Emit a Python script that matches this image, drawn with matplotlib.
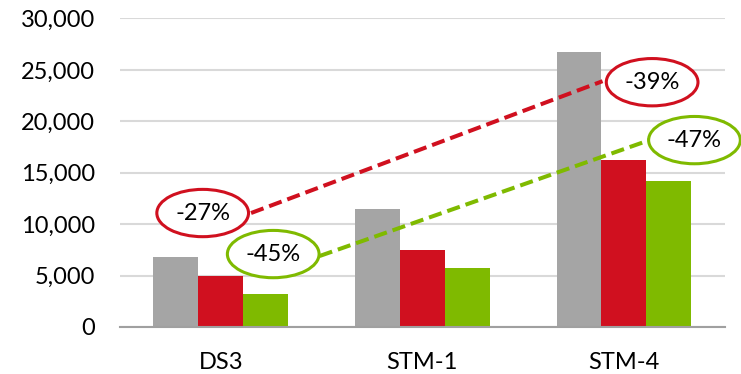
import numpy as np
import matplotlib
matplotlib.use("Agg")
import matplotlib.pyplot as plt
from matplotlib.patches import Ellipse
import matplotlib.ticker as ticker

# data
categories = ["DS3", "STM-1", "STM-4"]
baseline = [6770, 11470, 26700]
option_red = [5000, 7480, 16200]
option_green = [3240, 5700, 14190]

# annotations: (x, y) in data units, label
red_labels = [(-0.09, 11080, "-27%"), (2.14, 23800, "-39%")]
green_labels = [(0.26, 7090, "-45%"), (2.35, 18170, "-47%")]

GRAY = "#a5a5a5"
RED = "#d0101f"
GREEN = "#7fba00"

plt.rcParams['font.family'] = ['Lato', 'DejaVu Sans']

fig = plt.figure(figsize=(7.41, 3.74), dpi=100)
ax = fig.add_axes([0.162, 0.1257, 0.816, 0.825])

x = np.arange(len(categories))
w = 0.223
ax.bar(x - w, baseline, w, color=GRAY, zorder=2)
ax.bar(x, option_red, w, color=RED, zorder=2)
ax.bar(x + w, option_green, w, color=GREEN, zorder=2)

ax.set_xlim(-0.5, 2.5)
ax.set_ylim(0, 30000)
ax.yaxis.set_major_locator(ticker.MultipleLocator(5000))
ax.yaxis.set_major_formatter(ticker.StrMethodFormatter("{x:,.0f}"))
ax.set_xticks(x)
ax.set_xticklabels(categories)
ax.tick_params(axis="both", length=0, labelsize=17, colors="black")
ax.tick_params(axis="y", pad=18)
ax.tick_params(axis="x", pad=18)
ax.grid(axis="y", color="#d9d9d9", linewidth=1.5, zorder=0)
for s in ["top", "right", "left"]:
    ax.spines[s].set_visible(False)
ax.spines["bottom"].set_color("#a0a0a0")
ax.spines["bottom"].set_linewidth(1.5)
ax.spines["bottom"].set_zorder(3)

# dashed trend lines between ellipse edges
ax.plot([0.15, 1.894], [11080, 23900], color=RED, lw=2.9, ls=(0, (3.3, 1.5)), zorder=4)
ax.plot([0.49, 2.127], [6900, 18170], color=GREEN, lw=2.9, ls=(0, (3.3, 1.5)), zorder=4)

for labels, col in [(red_labels, RED), (green_labels, GREEN)]:
    for ex, ey, txt in labels:
        e = Ellipse((ex, ey), 0.455, 4600, facecolor="white", edgecolor=col,
                    lw=2.2, zorder=5, clip_on=False)
        ax.add_patch(e)
        ax.text(ex, ey, txt, ha="center", va="center", fontsize=17, zorder=6)

fig.savefig("out.png", dpi=100)
